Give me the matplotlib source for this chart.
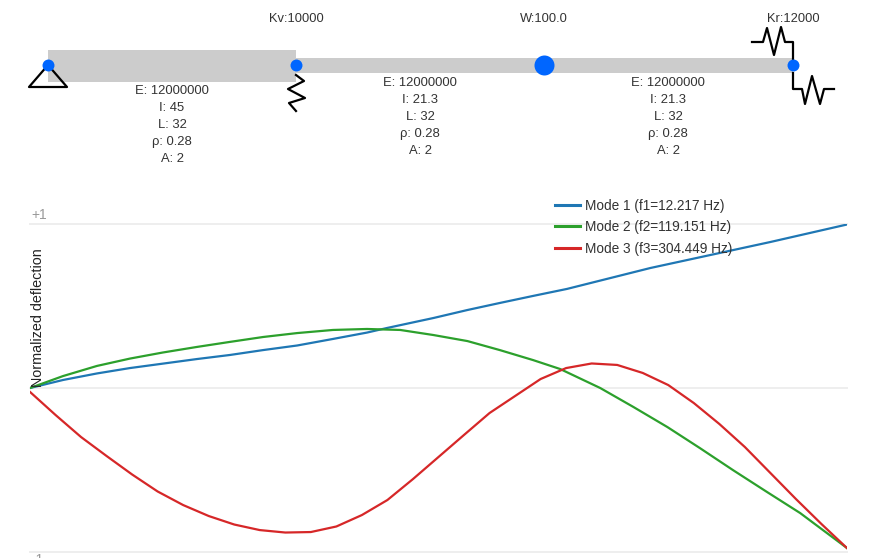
import numpy as np
import matplotlib
matplotlib.use("Agg")
import matplotlib.pyplot as plt

plt.rcParams['font.family'] = ['Liberation Sans', 'DejaVu Sans']

# mode shapes, x is position along the beam (total length 96)
x1 = [0, 3.88, 7.87, 11.75, 19.6, 23.5, 27.4, 31.4, 35.6, 39.6, 41.95, 47.4, 51.4, 55.2, 59.1, 63.1, 72.9, 87, 96]
mode1 = [0, .049, .089, .122, .177, .202, .232, .260, .300, .339, .367, .428, .477, .520, .563, .606, .734, .893, 1.0]
x2 = [0, 3.88, 7.87, 11.75, 15.6, 19.6, 23.5, 27.4, 31.4, 35.6, 39.6, 43.5, 47.4, 51.4, 55.2, 59.1, 62.3, 67,
      70.9, 74.9, 78.7, 82.6, 86.6, 90.5, 96]
mode2 = [0, .073, .135, .18, .217, .251, .282, .312, .336, .355, .361, .355, .324, .287, .232, .171, .116, 0,
         -.116, -.239, -.367, -.502, -.636, -.765, -.979]
x3 = np.arange(0, 97, 3)
mode3 = [-.024, -.165, -.300, -.416, -.529, -.633, -.716, -.783, -.835, -.869, -.884, -.881, -.847, -.777, -.685,
         -.557, -.422, -.287, -.153, -.049, .055, .122, .150, .141, .092, .018, -.092, -.220, -.361, -.520,
         -.679, -.832, -.979]
labels = ["Mode 1 (f1=12.217 Hz)", "Mode 2 (f2=119.151 Hz)", "Mode 3 (f3=304.449 Hz)"]
colors = ["#1f77b4", "#2ca02c", "#d62728"]

# beam segments
seg_E = [12000000, 12000000, 12000000]
seg_I = [45, 21.3, 21.3]
seg_L = [32, 32, 32]
seg_rho = [0.28, 0.28, 0.28]
seg_A = [2, 2, 2]

W = 871
H = 558
fig = plt.figure(figsize=(W/100, H/100), dpi=100)

# chart
ax = fig.add_axes([30/W, (H-551.5)/H, 817/W, 327/H])
ax.plot(x1, mode1, color=colors[0], lw=1.6, label=labels[0], zorder=3)
ax.plot(x2, mode2, color=colors[1], lw=1.6, label=labels[1], zorder=3)
ax.plot(x3, mode3, color=colors[2], lw=1.6, label=labels[2], zorder=4)
ax.set_xlim(0, 96)
ax.set_ylim(-1, 1)
for s in ax.spines.values():
    s.set_visible(False)
ax.set_xticks([])
ax.set_yticks([])
ax.patch.set_alpha(0)
for v in [-1, 0, 1]:
    ax.axhline(v, color="#eeeeee", lw=1.4, zorder=1, clip_on=False)
leg = ax.legend(loc="upper left", bbox_to_anchor=(525/817, 1.079), frameon=False, fontsize=9.8,
                handlelength=1.84, handletextpad=0.37, labelspacing=0.55, labelcolor="#333333",
                borderpad=0, borderaxespad=0)
for line in leg.get_lines():
    line.set_linewidth(2.2)

# overlay in pixel coordinates for the beam sketch
ov = fig.add_axes([0, 0, 1, 1], zorder=5)
ov.set_xlim(0, W)
ov.set_ylim(H, 0)
ov.axis("off")
ov.patch.set_alpha(0)

ov.text(31, 215, "+1", color="#999999", fontsize=10, ha="left", va="center")
ov.text(31, 560, "-1", color="#999999", fontsize=10, ha="left", va="center")
ov.text(38, 317.5, "Normalized deflection", color="#222222", fontsize=10.4, rotation=90, ha="center", va="center")

ov.fill_between([48, 296], 50, 82, color="#cccccc", lw=0)
ov.fill_between([296, 793], 58, 73, color="#cccccc", lw=0)

# supports
ov.plot([48, 29, 67, 48], [65, 87, 87, 65], color="black", lw=1.6, zorder=2)
ov.plot([296, 304, 288, 305, 289, 296], [75, 81, 89, 98, 103, 111], color="black", lw=1.6, zorder=2)
ov.plot([752, 763, 767, 774, 781, 785, 793, 793], [42, 42, 28, 55, 27, 42, 42, 60], color="black", lw=1.6, zorder=2)
ov.plot([793, 793, 802, 805, 812, 820, 824, 834], [73, 89, 89, 104, 76, 104, 89, 89], color="black", lw=1.6, zorder=2)

# nodes
ov.plot([48, 296, 793], [65, 65, 65], "o", color="#0066ff", ms=8.6, mew=0, zorder=3)
ov.plot([544], [65], "o", color="#0066ff", ms=14.4, mew=0, zorder=3)

ov.text(296, 19, "Kv:10000", color="#333333", fontsize=9.3, ha="center", va="center")
ov.text(544, 19, "W:100.0", color="#333333", fontsize=9.3, ha="center", va="center")
ov.text(793, 19, "Kr:12000", color="#333333", fontsize=9.3, ha="center", va="center")

centers = [172, 420, 668]
tops = [91, 83, 83]
for i in range(3):
    lines = ["E: %d" % seg_E[i], "I: %g" % seg_I[i], "L: %d" % seg_L[i], "ρ: %g" % seg_rho[i], "A: %d" % seg_A[i]]
    for j, t in enumerate(lines):
        ov.text(centers[i], tops[i] + j*16.9, t, color="#333333", fontsize=9.4, ha="center", va="center")

fig.savefig("out.png", dpi=100)
